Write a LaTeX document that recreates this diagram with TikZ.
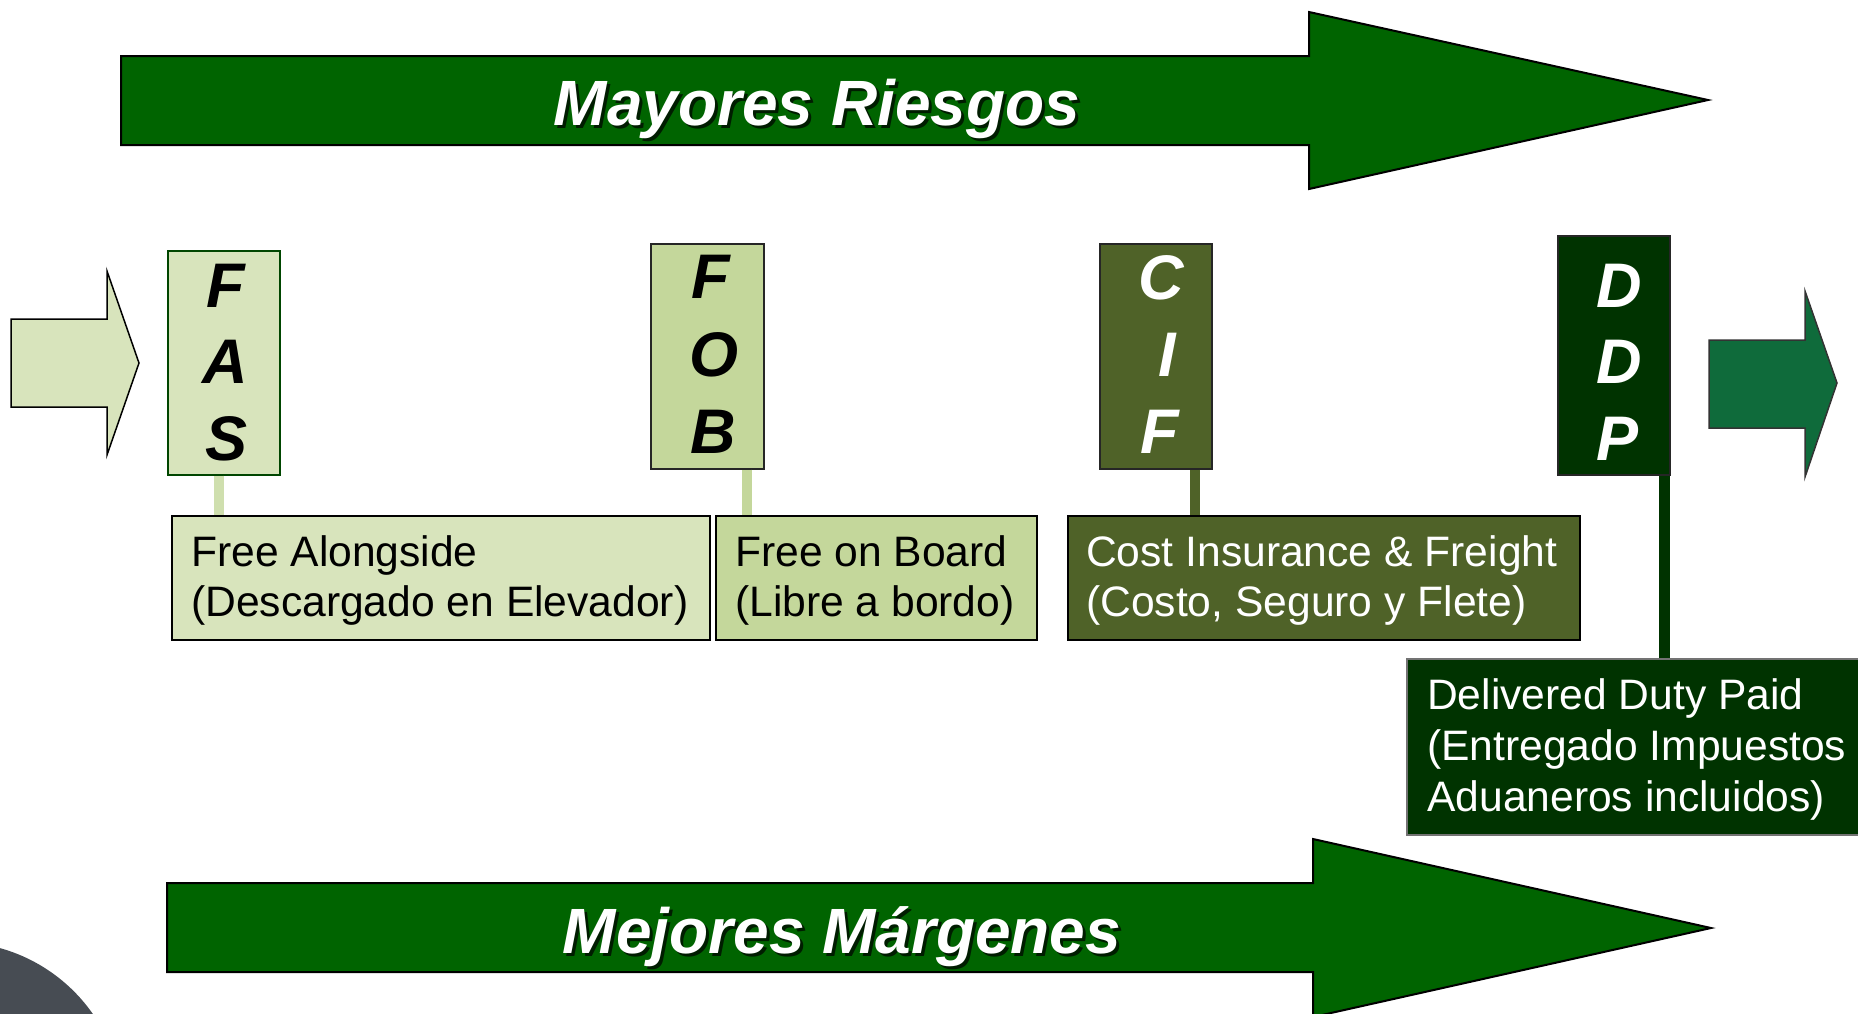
\documentclass[tikz,border=0pt]{standalone}
\usepackage{fontspec}
\setmainfont{Liberation Sans}
\definecolor{bigg}{HTML}{006400}
\definecolor{fasc}{HTML}{D8E4BC}
\definecolor{fasstem}{HTML}{CFDFAE}
\definecolor{fobc}{HTML}{C4D79B}
\definecolor{cifc}{HTML}{4F6228}
\definecolor{ddpc}{HTML}{003300}
\definecolor{rarr}{HTML}{0F6B3B}
\definecolor{slate}{HTML}{474C53}
\begin{document}
\begin{tikzpicture}[x=1pt,y=-1pt,
  bigarrow/.style={fill=bigg,draw=black,line width=2pt,line join=miter},
  smallarrow/.style={draw=black,line width=1.5pt,line join=miter},
  letterbox/.style={draw=#1,line width=1.6pt,inner sep=0pt,anchor=north west},
  labelbox/.style={draw=black,line width=2pt,inner sep=0pt,anchor=north west},
  letter/.style={font=\fontsize{63}{63}\selectfont\bfseries\itshape,inner sep=0pt,anchor=base,text=#1},
  lbl/.style={font=\fontsize{42.6}{50}\selectfont,inner sep=0pt,anchor=base west,text=#1},
  title/.style={font=\fontsize{64}{64}\selectfont\bfseries\itshape,inner sep=0pt,anchor=base},
  stem/.style={line width=10pt,draw=#1}]
\useasboundingbox (0,0) rectangle (1858,1013);
\fill[white] (0,0) rectangle (1858,1013);

% grey corner shape
\fill[slate] (-45,1110) circle (168pt);

% big arrows
\draw[bigarrow] (121,56) -- (1309,56) -- (1309,12) -- (1708,100) -- (1309,189) -- (1309,145) -- (121,145) -- cycle;
\draw[bigarrow] (167,883) -- (1313,883) -- (1313,839) -- (1711,928) -- (1313,1017) -- (1313,972) -- (167,972) -- cycle;

\node[title,text=black,opacity=0.7] (t1s) at (820,128) {Mayores Riesgos};
\node[title,text=white] (t1) at (817,125) {Mayores Riesgos};
\node[title,text=black,opacity=0.7] (t2s) at (845,956) {Mejores Márgenes};
\node[title,text=white] (t2) at (842,953) {Mejores Márgenes};

% small arrows
\draw[smallarrow,fill=fasc] (11,319) -- (107,319) -- (107,271) -- (139,363) -- (107,455) -- (107,407) -- (11,407) -- cycle;
\draw[smallarrow,fill=rarr,draw=black!80] (1709,340) -- (1805,340) -- (1805,291) -- (1837,383) -- (1805,477) -- (1805,428) -- (1709,428) -- cycle;

% letter boxes
\node[letterbox=bigg!70!black,fill=fasc,minimum width=112pt,minimum height=224pt] (fas) at (167,250) {};
\node[letterbox=black!85,fill=fobc,minimum width=113pt,minimum height=225pt] (fob) at (650,243) {};
\node[letterbox=black!85,fill=cifc,minimum width=112pt,minimum height=225pt] (cif) at (1099,243) {};
\node[letterbox=black!85,fill=ddpc,minimum width=112pt,minimum height=239pt] (ddp) at (1557,235) {};

\node[letter=black] (fas1) at (226,307) {F};
\node[letter=black] (fas2) at (225,383) {A};
\node[letter=black] (fas3) at (227,460) {S};
\node[letter=black] (fob1) at (711,298) {F};
\node[letter=black] (fob2) at (714,376) {O};
\node[letter=black] (fob3) at (713,453) {B};
\node[letter=white] (cif1) at (1161,299) {C};
\node[letter=white] (cif2) at (1167,376) {I};
\node[letter=white] (cif3) at (1160,453) {F};
\node[letter=white] (ddp1) at (1619,307) {D};
\node[letter=white] (ddp2) at (1619,383) {D};
\node[letter=white] (ddp3) at (1617,460) {P};

% label boxes
\node[labelbox,fill=fasc,minimum width=538pt,minimum height=124pt] (fasl) at (171,515) {};
\node[labelbox,fill=fobc,minimum width=321pt,minimum height=124pt] (fobl) at (715,515) {};
\node[labelbox,fill=cifc,minimum width=512pt,minimum height=124pt] (cifl) at (1067,515) {};
\node[labelbox,fill=ddpc,draw=black!55,line width=1.5pt,minimum width=470pt,minimum height=176pt] (ddpl) at (1406,658) {};

% stems
\coordinate (sx1) at (219,0);
\coordinate (sx2) at (747,0);
\coordinate (sx3) at (1195,0);
\coordinate (sx4) at (1664,0);
\draw[stem=fasstem] (fas.south -| sx1) -- (fasl.north -| sx1);
\draw[stem=fobc] (fob.south -| sx2) -- (fobl.north -| sx2);
\draw[stem=cifc] (cif.south -| sx3) -- (cifl.north -| sx3);
\draw[stem=ddpc,line width=11pt] (ddp.south -| sx4) -- (ddpl.north -| sx4);

% label texts
\node[lbl=black] (fast1) at (191,566) {Free Alongside};
\node[lbl=black] (fast2) at (191,616) {(Descargado en Elevador)};
\node[lbl=black] (fobt1) at (735,566) {Free on Board};
\node[lbl=black] (fobt2) at (735,616) {(Libre a bordo)};
\node[lbl=white] (cift1) at (1086,566) {Cost Insurance \& Freight};
\node[lbl=white] (cift2) at (1086,616) {(Costo, Seguro y Flete)};
\node[lbl=white] (ddpt1) at (1427,709) {Delivered Duty Paid};
\node[lbl=white] (ddpt2) at (1427,760) {(Entregado Impuestos};
\node[lbl=white] (ddpt3) at (1427,811) {Aduaneros incluidos)};
\end{tikzpicture}
\end{document}
